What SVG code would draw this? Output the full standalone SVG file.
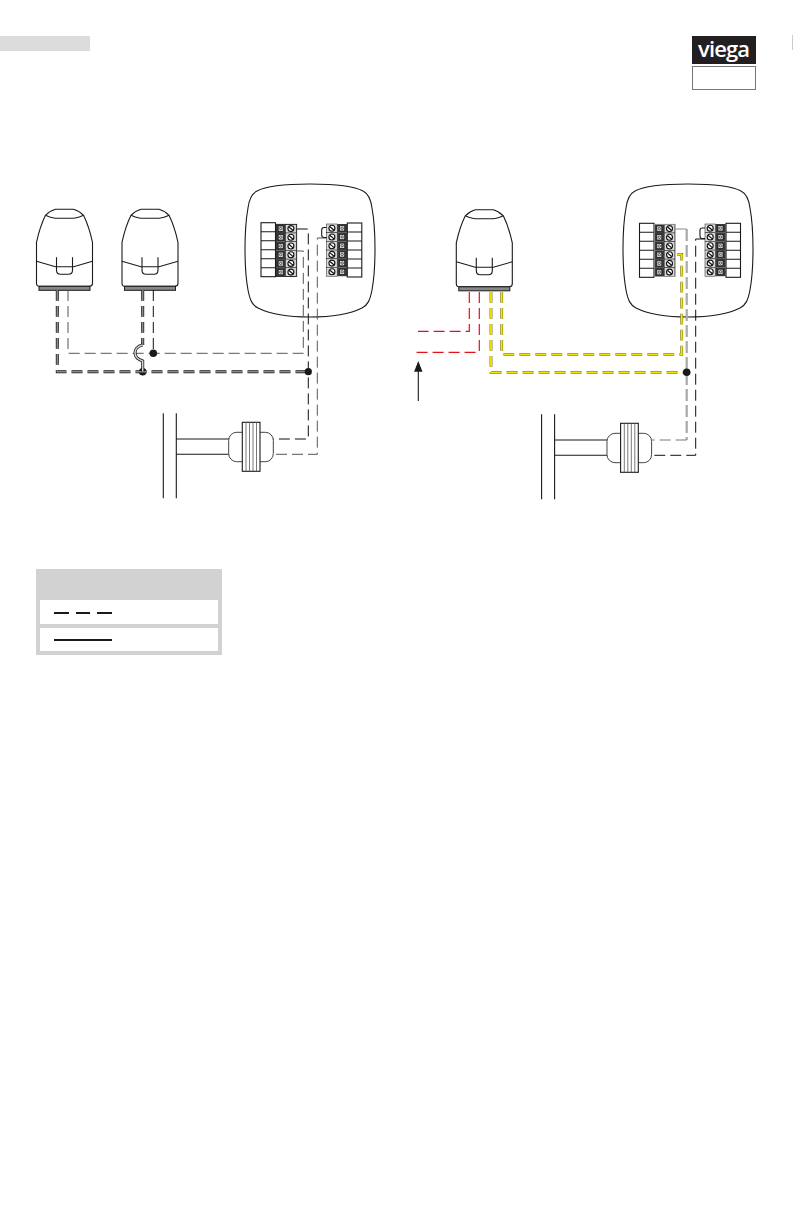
<svg xmlns="http://www.w3.org/2000/svg" xmlns:xlink="http://www.w3.org/1999/xlink" width="793" height="1225" viewBox="0 0 793 1225">
<style>
.o{fill:#fff;stroke:#1a1a1a;stroke-width:1.1}
.n{fill:none;stroke:#1a1a1a;stroke-width:1.1}
.w{fill:none;stroke:#111;stroke-width:1;stroke-dasharray:11 5}
.wg{fill:none;stroke:#555;stroke-width:1;stroke-dasharray:11 5}
.wgt{fill:none;stroke:#a8a8a8;stroke-width:2.2;stroke-dasharray:12 4}
.r{fill:none;stroke:#e3101e;stroke-width:1.2;stroke-dasharray:11 5}
.ho{fill:none;stroke:#1a1a1a;stroke-width:3;stroke-dasharray:10.8 5.200}
.hi{fill:none;stroke:#8c8c8c;stroke-width:1.5;stroke-dasharray:10.8 5.200}
.yo{fill:none;stroke:#6b6b20;stroke-width:2.8;stroke-dasharray:10.8 5.200}
.yi{fill:none;stroke:#f5e600;stroke-width:1.8;stroke-dasharray:10.8 5.200}
.hop{fill:none;stroke:#1a1a1a;stroke-width:3}
.hopi{fill:none;stroke:#d0d0d0;stroke-width:1.5}
.d{fill:#1a1a1a}
</style>
<defs>
<g id="actuator">
<path class="o" d="M0,33 C2,24 5,14 9,6 C12,3 15,1 19,0 H37 C41,1 44,3 47,6 C51,14 54,24 56,33 V74 Q56,77 53,77 H3 Q0,77 0,74 Z"/>
<path class="n" d="M9,6 C15,9 19,9 28,9 C37,9 41,9 47,6"/>
<path class="n" d="M0,52 L19,57.4 H37 L56,52"/>
<path class="n" d="M20,48 V61 Q20,65 24,65 H32 Q36,65 36,61 V48"/>
<rect x="2.500" y="77" width="51" height="4" fill="#888" stroke="#1a1a1a" stroke-width="1"/>
</g>
<g id="box"><path class="o" d="M310,184 C285,184 266,186 257,191 C251,194 249,200 248,208 C244,230 244,268 248,290 C250,300 252,305 258,308 C268,313 285,317 310,317 C335,317 352,313 362,308 C368,305 370,300 372,290 C376,268 376,230 372,208 C371,200 369,194 363,191 C354,186 335,184 310,184 Z"/></g>
<g id="cells"><rect class="o" x="0" y="0" width="14.500" height="54"/><path class="n" d="M0,9 H14.500 M0,18 H14.500 M0,27 H14.500 M0,36 H14.500 M0,45 H14.500"/></g>
<g id="sq"><rect x="0" y="0" width="10" height="8.700" fill="#3a3a3a"/><rect x="2.500" y="1.700" width="5" height="5.300" fill="#ddd" stroke="#111" stroke-width=".7"/><circle cx="5" cy="4.300" r="1.200" fill="none" stroke="#111" stroke-width=".6"/></g>
<g id="sc"><rect x="0" y="0" width="10.500" height="8.700" fill="#d8d8d8" stroke="#1a1a1a" stroke-width=".5"/><circle cx="5.200" cy="4.300" r="3" fill="#fff" stroke="#111" stroke-width="1.100"/><path d="M3,2.500 L7.400,6.200" stroke="#111" stroke-width="1.200"/></g>
<g id="strL">
<use xlink:href="#sq" href="#sq" y="0"/><use xlink:href="#sc" href="#sc" x="10" y="0"/>
<use xlink:href="#sq" href="#sq" y="8.700"/><use xlink:href="#sc" href="#sc" x="10" y="8.700"/>
<use xlink:href="#sq" href="#sq" y="17.400"/><use xlink:href="#sc" href="#sc" x="10" y="17.400"/>
<use xlink:href="#sq" href="#sq" y="26.100"/><use xlink:href="#sc" href="#sc" x="10" y="26.100"/>
<use xlink:href="#sq" href="#sq" y="34.800"/><use xlink:href="#sc" href="#sc" x="10" y="34.800"/>
<use xlink:href="#sq" href="#sq" y="43.500"/><use xlink:href="#sc" href="#sc" x="10" y="43.500"/>
</g>
<g id="strR">
<use xlink:href="#sc" href="#sc" y="0"/><use xlink:href="#sq" href="#sq" x="10.500" y="0"/>
<use xlink:href="#sc" href="#sc" y="8.700"/><use xlink:href="#sq" href="#sq" x="10.500" y="8.700"/>
<use xlink:href="#sc" href="#sc" y="17.400"/><use xlink:href="#sq" href="#sq" x="10.500" y="17.400"/>
<use xlink:href="#sc" href="#sc" y="26.100"/><use xlink:href="#sq" href="#sq" x="10.500" y="26.100"/>
<use xlink:href="#sc" href="#sc" y="34.800"/><use xlink:href="#sq" href="#sq" x="10.500" y="34.800"/>
<use xlink:href="#sc" href="#sc" y="43.500"/><use xlink:href="#sq" href="#sq" x="10.500" y="43.500"/>
</g>
<g id="pipe">
<path class="n" d="M163.300,413.300 V498.300 M176.300,413.300 V498.300 M176.300,439 H229 M176.300,454.300 H229"/>
<rect x="228.700" y="432.300" width="44.600" height="29.400" rx="8" fill="#fff" stroke="#444" stroke-width="1"/>
<rect class="o" x="242.300" y="422.300" width="17.700" height="49"/>
<path d="M246,422.300 V471.300 M249.500,422.300 V471.300 M253,422.300 V471.300 M256.500,422.300 V471.300" stroke="#555" stroke-width=".8" fill="none"/>
</g>
</defs>

<rect id="header-bar" x="0" y="36" width="90" height="15" fill="#dcdcdc"/>
<g id="logo">
<rect x="692" y="36" width="64" height="28" fill="#231f20"/>
<text x="724" y="57" text-anchor="middle" font-family="'Open Sans','Noto Sans',sans-serif" font-weight="600" font-size="22" fill="#fff" textLength="52" lengthAdjust="spacing">viega</text>
<rect x="692.500" y="66.500" width="63" height="23" fill="#fff" stroke="#777" stroke-width="1"/>
</g>
<rect id="edge-mark" x="792" y="35" width="1" height="15" fill="#ccc"/>

<g id="actuator-1"><use xlink:href="#actuator" href="#actuator" x="36.500" y="209.300"/></g>
<g id="actuator-2"><use xlink:href="#actuator" href="#actuator" x="122" y="209.300"/></g>
<g id="actuator-3"><use xlink:href="#actuator" href="#actuator" x="456.300" y="209.800"/></g>

<g id="control-box-1">
<use xlink:href="#box" href="#box"/>
<use xlink:href="#cells" href="#cells" x="261" y="222.700"/>
<use xlink:href="#strL" href="#strL" x="275.700" y="224.300"/>
<rect x="275.700" y="224.300" width="21" height="52.200" fill="none" stroke="#1a1a1a" stroke-width=".8"/>
<use xlink:href="#strR" href="#strR" x="326.700" y="224"/>
<use xlink:href="#cells" href="#cells" x="347.300" y="223"/>
</g>
<g id="control-box-2">
<use xlink:href="#box" href="#box" x="378"/>
<use xlink:href="#cells" href="#cells" x="639.500" y="223.300"/>
<use xlink:href="#strL" href="#strL" x="654.300" y="224.300"/>
<rect x="654.300" y="224.300" width="21" height="52.200" fill="none" stroke="#999" stroke-width=".8"/>
<use xlink:href="#strR" href="#strR" x="705" y="224"/>
<use xlink:href="#cells" href="#cells" x="726" y="223.300"/>
</g>

<g id="pipe-1"><use xlink:href="#pipe" href="#pipe"/></g>
<g id="pipe-2"><use xlink:href="#pipe" href="#pipe" x="378.300" y="1"/></g>

<g id="connectors">
<circle class="d" cx="142.700" cy="371.700" r="3.800"/>
<path class="ho" d="M57.300,290 V371.700 H308"/><path class="hi" d="M57.300,290 V371.700 H308"/>
<path class="wg" d="M68,290 V353.300 H303.300 V251 H296.700"/>
<path class="ho" d="M142.700,290 V345"/><path class="hi" d="M142.700,290 V345"/>
<path class="hop" d="M142.700,345 C137,346 135,350 135,353 M135,353 C135,356 137,359 142.700,361 V371.700"/>
<path class="hopi" d="M142.700,345 C137,346 135,350 135,353 M135,353 C135,356 137,359 142.700,361 V371.700"/>
<path class="w" d="M153.300,290 V353.300"/>
<path class="w" d="M296.700,229 H308.300 V439 H273.300"/>
<path class="wg" d="M326.700,238 H317.300 V454.300 H273.300"/>
<path class="n" d="M326.700,227.500 H324 Q321.700,227.500 321.700,230 V235 Q321.700,237.500 324,237.500 H326.700"/>
<circle class="d" cx="153.300" cy="353.300" r="3.800"/>
<circle class="d" cx="308.300" cy="371.700" r="3.600"/>

<path class="r" d="M469.300,292 V331.300 H418"/>
<path class="r" d="M479.300,292 V352.300 H414"/>
<path class="yo" d="M491,292 V372.300 H686"/><path class="yi" d="M491,292 V372.300 H686"/>
<path class="yo" d="M501.700,292 V354.300 H681.700 V254.300 H675"/><path class="yi" d="M501.700,292 V354.300 H681.700 V254.300 H675"/>
<path d="M675.300,229 H686.700" fill="none" stroke="#888" stroke-width="1"/>
<path class="wgt" d="M686.700,229 V440"/>
<path d="M686.700,440 H651.700" fill="none" stroke="#777" stroke-width="1" stroke-dasharray="11 5"/>
<path class="w" d="M705,239 H695.700 V455.300 H651.700"/>
<path class="n" d="M705,228 H702 Q700,228 700,230 V236 Q700,238.500 702,238.500 H705"/>
<circle class="d" cx="686.700" cy="372.300" r="3.800"/>
</g>

<g id="arrow">
<path class="n" d="M418.300,401 V370"/>
<path class="d" d="M418.300,361 L422.500,371.700 H414.100 Z"/>
</g>

<g id="legend">
<rect x="36" y="569" width="186" height="86" fill="#d2d2d2"/>
<rect x="40" y="600" width="178" height="24" fill="#fff"/>
<rect x="40" y="628" width="178" height="23" fill="#fff"/>
<path d="M54,613 H69 M76,613 H90 M97,613 H112" stroke="#1a1a1a" stroke-width="2" fill="none"/>
<path d="M54,640 H112" stroke="#1a1a1a" stroke-width="2" fill="none"/>
</g>
</svg>
